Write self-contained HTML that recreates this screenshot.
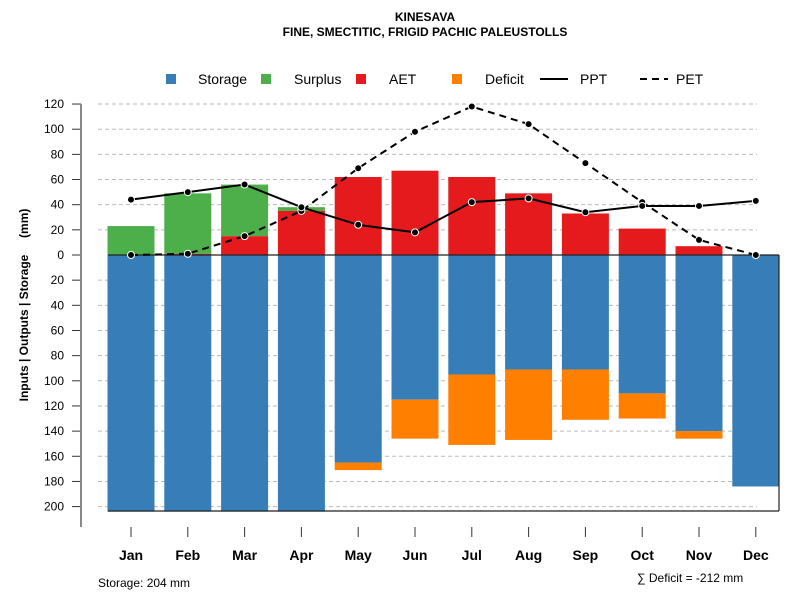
<!DOCTYPE html>
<html><head><meta charset="utf-8"><style>
body{margin:0;background:#fff;}
svg text{font-family:"Liberation Sans",sans-serif;}
</style></head><body>
<svg id="c" width="800" height="600" xmlns="http://www.w3.org/2000/svg">
<text x="425" y="21" text-anchor="middle" font-size="12" font-weight="bold">KINESAVA</text>
<text x="425" y="36" text-anchor="middle" font-size="12" font-weight="bold">FINE, SMECTITIC, FRIGID PACHIC PALEUSTOLLS</text>
<text transform="translate(28,305) rotate(-90)" text-anchor="middle" font-size="12" font-weight="bold" style="white-space:pre">Inputs | Outputs | Storage     (mm)</text>
<text x="98" y="587" font-size="12">Storage: 204 mm</text>
<text x="637" y="582" font-size="12">∑ Deficit = -212 mm</text>
<g id="grid"></g><g id="bars"></g><g id="axes"></g><g id="lines"></g><g id="legend"></g>
</svg>
<script>
const months=["Jan","Feb","Mar","Apr","May","Jun","Jul","Aug","Sep","Oct","Nov","Dec"];
const storage=[204,204,204,204,165,115,95,91,91,110,140,184];
const deficit=[0,0,0,0,6,31,56,56,40,20,6,0];
const aet=[0,1,15,35,62,67,62,49,33,21,7,0];
const surplus=[23,48,41,3,0,0,0,0,0,0,0,0];
const ppt=[44,50,56,38,24,18,42,45,34,39,39,43];
const pet=[0,1,15,35,69,98,118,104,73,42,12,0];
const yTicks=[120,100,80,60,40,20,0,20,40,60,80,100,120,140,160,180,200];
const NS="http://www.w3.org/2000/svg";
const y0=255,k=1.258;
const yv=v=>y0-v*k;
const xc=i=>131+i*56.8;
const bw=47;
function mk(p,t,a){const e=document.createElementNS(NS,t);for(const q in a)e.setAttribute(q,a[q]);document.getElementById(p).appendChild(e);return e;}
yTicks.forEach((t,j)=>{const v=j<=6?t:-t;const y=yv(v);
 if(t!==0){const g=mk('grid','line',{x1:98,x2:757,y1:y,y2:y,stroke:'#bbb','stroke-dasharray':'4,3'});
 
 }
 const tk=mk('axes','line',{x1:72,x2:81,y1:y,y2:y,stroke:'#333'});
 
 
 const tx=mk('axes','text',{x:64,y:y+4,'text-anchor':'end','font-size':12});tx.textContent=t;
 
 
});
const la=mk('axes','line',{x1:81,x2:81,y1:yv(120),y2:527,stroke:'#888','stroke-width':2});


months.forEach((m,i)=>{const x=xc(i);
 const s=mk('bars','rect',{x:x-bw/2,y:y0,width:bw,height:storage[i]*k,fill:'#377eb8'});
 
 
 if(deficit[i]>0){const d=mk('bars','rect',{x:x-bw/2,y:y0+storage[i]*k,width:bw,height:deficit[i]*k,fill:'#ff7f00'});
 
 }
 if(aet[i]>0){const a=mk('bars','rect',{x:x-bw/2,y:yv(aet[i]),width:bw,height:aet[i]*k,fill:'#e41a1c'});
 
 }
 if(surplus[i]>0){const u=mk('bars','rect',{x:x-bw/2,y:yv(aet[i]+surplus[i]),width:bw,height:surplus[i]*k,fill:'#4daf4a'});
 
 }
 const t=mk('axes','line',{x1:x,x2:x,y1:527,y2:537,stroke:'#333'});
 
 
 const l=mk('axes','text',{x:x,y:560,'text-anchor':'middle','font-size':14,'font-weight':'bold'});l.textContent=m;
 
 
});
[[108,y0,779,y0],[108,511,779,511],[779,y0,779,511]].forEach(c=>{const l=mk('axes','line',{x1:c[0],y1:c[1],x2:c[2],y2:c[3],stroke:'#222','stroke-width':1.2});
 
 });
function series(arr,dash,name){const p=mk('lines','polyline',{points:arr.map((v,i)=>xc(i)+','+yv(v)).join(' '),fill:'none',stroke:'#000','stroke-width':2,'stroke-dasharray':dash});
 
 
 arr.forEach((v,i)=>{const c=mk('lines','circle',{cx:xc(i),cy:yv(v),r:3.5,fill:'#000',stroke:'#fff','stroke-width':1});
 
 });}
series(pet,'7,5','pet');series(ppt,'none','ppt');
const leg=[['Storage','#377eb8','box',171,198],['Surplus','#4daf4a','box',266,294],['AET','#e41a1c','box',361,389],['Deficit','#ff7f00','box',457,485],['PPT','#000','line',554,580],['PET','#000','dash',654,676]];
leg.forEach(L=>{let m;
 if(L[2]==='box')m=mk('legend','rect',{x:L[3]-5,y:74,width:10,height:10,fill:L[1]});
 else m=mk('legend','line',{x1:L[3]-14,x2:L[3]+14,y1:79,y2:79,stroke:'#000','stroke-width':2,'stroke-dasharray':L[2]==='dash'?'7,5':'none'});
 
 
 const t=mk('legend','text',{x:L[4],y:84,'font-size':14});t.textContent=L[0];
 
 });
</script>
</body></html>
